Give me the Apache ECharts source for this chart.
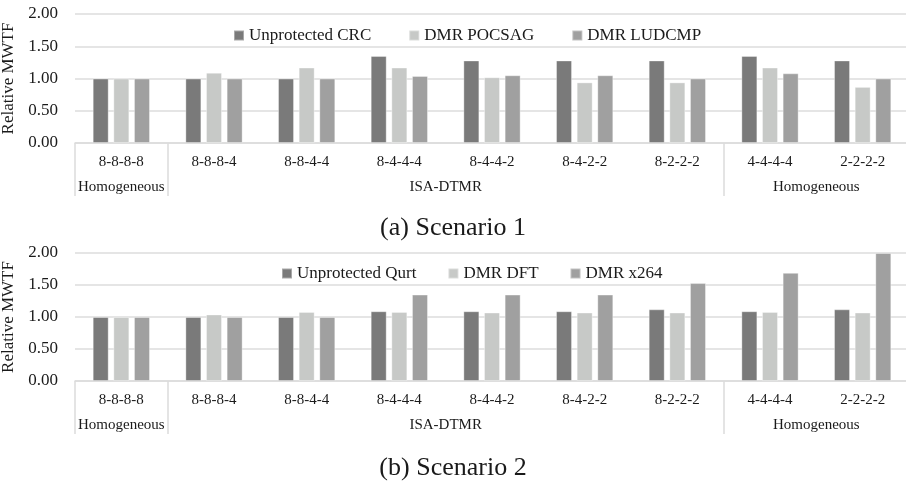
<!DOCTYPE html>
<html>
<head>
<meta charset="utf-8">
<script src="https://cdn.jsdelivr.net/npm/echarts@6/dist/echarts.min.js"></script>
<style>html,body{margin:0;padding:0;background:#fff;}#c{width:906px;height:481px;}</style>
</head>
<body>
<div id="c"></div>
<script>
const categories = ['8-8-8-8','8-8-8-4','8-8-4-4','8-4-4-4','8-4-4-2','8-4-2-2','8-2-2-2','4-4-4-4','2-2-2-2'];
const groups = [['Homogeneous',1],['ISA-DTMR',6],['Homogeneous',2]];
const yTicks = [0, 0.5, 1, 1.5, 2];

const s1Names = ['Unprotected CRC','DMR POCSAG','DMR LUDCMP'];
const s1Unprotected = [1.00,1.00,1.00,1.35,1.28,1.28,1.28,1.35,1.28];
const s1Pocsag      = [1.00,1.09,1.17,1.17,1.02,0.94,0.94,1.17,0.87];
const s1Ludcmp      = [1.00,1.00,1.00,1.04,1.05,1.05,1.00,1.08,1.00];

const s2Names = ['Unprotected Qurt','DMR DFT','DMR x264'];
const s2Unprotected = [1.00,1.00,1.00,1.09,1.09,1.09,1.12,1.09,1.12];
const s2Dft         = [1.00,1.04,1.08,1.08,1.07,1.07,1.07,1.08,1.07];
const s2X264        = [1.00,1.00,1.00,1.35,1.35,1.35,1.53,1.69,2.00];

const captions = ['(a) Scenario 1','(b) Scenario 2'];

const colors = ['#7a7a7a','#c7c9c7','#a0a0a0'];
const FONT = 'Liberation Serif';
const TXT = '#1a1a1a';
const GRIDC = '#dcdcdc';

// group axis built from groups: half-category points
const nHalf = categories.length * 2;
const groupData = new Array(nHalf + 1).fill('');
const sepIdx = [0];
let start = 0;
groups.forEach(g => {
  groupData[start * 2 + g[1]] = g[0];
  start += g[1];
  sepIdx.push(start * 2);
});

const grids = [
  {left: 75, width: 834, top: 14, height: 129, containLabel: false, outerBoundsMode: 'none'},
  {left: 75, width: 834, top: 253, height: 128, containLabel: false, outerBoundsMode: 'none'}
];

function mkX(gi) {
  return [
    {
      type: 'category', gridIndex: gi, data: categories,
      axisLine: {lineStyle: {color: GRIDC, width: 1.5}},
      axisTick: {show: false},
      axisLabel: {interval: 0, margin: 12, fontFamily: FONT, fontSize: 15, color: TXT}
    },
    {
      type: 'category', gridIndex: gi, data: groupData, boundaryGap: false, position: 'bottom',
      axisLine: {show: false},
      axisTick: {show: true, length: 53, interval: (i) => sepIdx.includes(i), lineStyle: {color: GRIDC, width: 1.5}},
      axisLabel: {interval: 0, margin: 37, fontFamily: FONT, fontSize: 15, color: TXT},
      splitLine: {show: false}
    }
  ];
}
function mkY(gi) {
  return {
    type: 'value', gridIndex: gi, min: yTicks[0], max: yTicks[yTicks.length - 1], interval: yTicks[1] - yTicks[0],
    name: 'Relative MWTF', nameLocation: 'middle', nameGap: 46,
    nameTextStyle: {fontFamily: FONT, fontSize: 17, color: TXT},
    axisLine: {show: false}, axisTick: {show: false},
    axisLabel: {margin: 17, fontFamily: FONT, fontSize: 17, color: TXT, formatter: v => v.toFixed(2)},
    splitLine: {lineStyle: {color: GRIDC, width: 1.5}}
  };
}
function mkS(names, datas, xi, yi) {
  return names.map((n, k) => ({
    name: n, type: 'bar', xAxisIndex: xi, yAxisIndex: yi, data: datas[k],
    barWidth: 16, barGap: '29%',
    itemStyle: {color: colors[k], borderColor: 'rgba(255,255,255,0.35)', borderWidth: 1}
  }));
}

const chart = echarts.init(document.getElementById('c'), null, {renderer: 'canvas'});
chart.setOption({
  animation: false,
  color: colors,
  title: [
    {text: captions[0], left: 'center', top: 210, textStyle: {fontFamily: FONT, fontSize: 26, fontWeight: 'normal', color: TXT}},
    {text: captions[1], left: 'center', top: 450, textStyle: {fontFamily: FONT, fontSize: 26, fontWeight: 'normal', color: TXT}}
  ],
  legend: [
    {data: s1Names, left: 228, top: 22, itemWidth: 10, itemHeight: 10, itemGap: 37, icon: 'rect',
     textStyle: {fontFamily: FONT, fontSize: 17, color: TXT}},
    {data: s2Names, left: 276, top: 260, itemWidth: 10, itemHeight: 10, itemGap: 31, icon: 'rect',
     textStyle: {fontFamily: FONT, fontSize: 17, color: TXT}}
  ],
  grid: grids,
  xAxis: mkX(0).concat(mkX(1)),
  yAxis: [mkY(0), mkY(1)],
  series: mkS(s1Names, [s1Unprotected, s1Pocsag, s1Ludcmp], 0, 0)
    .concat(mkS(s2Names, [s2Unprotected, s2Dft, s2X264], 2, 1))
});
</script>
</body>
</html>
